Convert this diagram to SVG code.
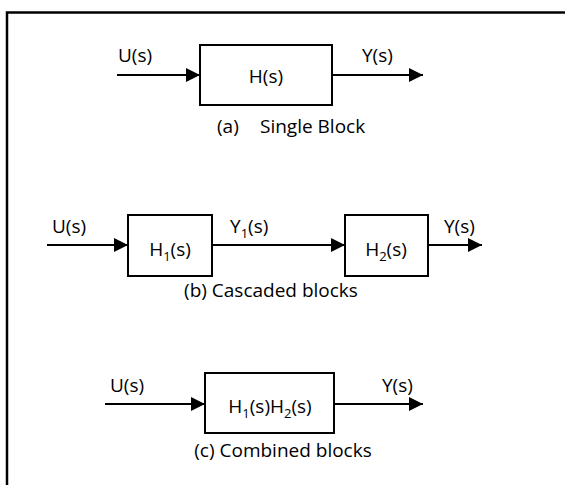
<svg xmlns="http://www.w3.org/2000/svg" width="565" height="485" viewBox="0 0 565 485">
<style>
.frame{fill:none;stroke:#000;stroke-width:2.5}
.blk{fill:#fff;stroke:#000;stroke-width:2}
.wire{fill:none;stroke:#000;stroke-width:2}
text{font-family:"Open Sans","Liberation Sans",sans-serif;font-size:19px;fill:#000}
.c{text-anchor:middle}
.sub{font-size:13px}
</style>
<defs>
<marker id="ah" viewBox="0 0 14 14" refX="14" refY="7" markerWidth="14" markerHeight="14" markerUnits="userSpaceOnUse" orient="auto">
<path d="M0,0 L14,7 L0,14 Z" fill="#000"/>
</marker>
</defs>
<rect width="565" height="485" fill="#fff"/>
<path class="frame" d="M7,485 V12.5 H565"/>
<g id="connectors">
<line class="wire" x1="117" y1="75" x2="200" y2="75" marker-end="url(#ah)"/>
<line class="wire" x1="332" y1="75" x2="423" y2="75" marker-end="url(#ah)"/>
<line class="wire" x1="47" y1="245" x2="128" y2="245" marker-end="url(#ah)"/>
<line class="wire" x1="212" y1="245" x2="345" y2="245" marker-end="url(#ah)"/>
<line class="wire" x1="428" y1="245" x2="482" y2="245" marker-end="url(#ah)"/>
<line class="wire" x1="105" y1="404" x2="205" y2="404" marker-end="url(#ah)"/>
<line class="wire" x1="334" y1="404" x2="423" y2="404" marker-end="url(#ah)"/>
</g>
<g id="labels">
<text x="118" y="62">U(s)</text>
<text x="362" y="62">Y(s)</text>
<text x="52" y="233">U(s)</text>
<text x="230" y="233">Y<tspan class="sub" dy="5">1</tspan><tspan dy="-5">(s)</tspan></text>
<text x="444" y="233">Y(s)</text>
<text x="110" y="392">U(s)</text>
<text x="382" y="392">Y(s)</text>
</g>
<g id="block-a">
<rect class="blk" x="200" y="45" width="132" height="60"/>
<text class="c" x="266" y="83">H(s)</text>
</g>
<text x="217" y="133">(a)</text>
<text x="260" y="133">Single Block</text>
<g id="block-b1">
<rect class="blk" x="128" y="215" width="84" height="61"/>
<text class="c" x="170" y="256">H<tspan class="sub" dy="5">1</tspan><tspan dy="-5">(s)</tspan></text>
</g>
<g id="block-b2">
<rect class="blk" x="345" y="215" width="83" height="61"/>
<text class="c" x="386" y="256">H<tspan class="sub" dy="5">2</tspan><tspan dy="-5">(s)</tspan></text>
</g>
<text class="c" x="271" y="297">(b) Cascaded blocks</text>
<g id="block-c">
<rect class="blk" x="205" y="373" width="129" height="60"/>
<text class="c" x="270" y="413">H<tspan class="sub" dy="5">1</tspan><tspan dy="-5">(s)H</tspan><tspan class="sub" dy="5">2</tspan><tspan dy="-5">(s)</tspan></text>
</g>
<text class="c" x="283" y="457">(c) Combined blocks</text>
</svg>
